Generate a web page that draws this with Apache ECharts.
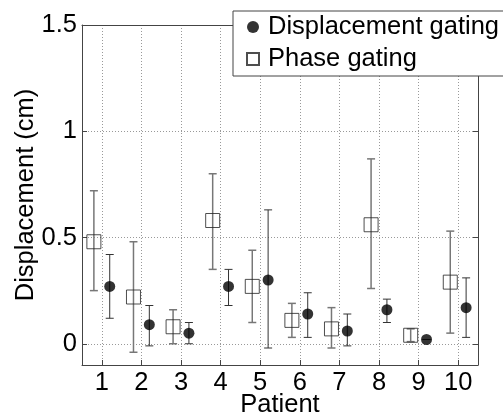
<!DOCTYPE html>
<html>
<head>
<meta charset="utf-8">
<script src="https://cdn.jsdelivr.net/npm/echarts@6/dist/echarts.min.js"></script>
<style>
  html, body { margin: 0; padding: 0; background: #fff; }
  #chart { width: 503px; height: 417px; }
</style>
</head>
<body>
<div id="chart"></div>
<script>
// data
const patients = [1, 2, 3, 4, 5, 6, 7, 8, 9, 10];
const phaseMean = [0.48, 0.22, 0.08, 0.58, 0.27, 0.11, 0.07, 0.56, 0.04, 0.29];
const phaseLow = [0.25, -0.04, 0.00, 0.35, 0.10, 0.03, -0.02, 0.26, 0.01, 0.05];
const phaseHigh = [0.72, 0.48, 0.16, 0.80, 0.44, 0.19, 0.17, 0.87, 0.07, 0.53];
const dispMean = [0.27, 0.09, 0.05, 0.27, 0.30, 0.14, 0.06, 0.16, 0.02, 0.17];
const dispLow = [0.12, -0.01, 0.00, 0.18, -0.02, 0.03, -0.01, 0.10, 0.02, 0.03];
const dispHigh = [0.42, 0.18, 0.10, 0.35, 0.63, 0.24, 0.14, 0.21, 0.02, 0.31];
const yTicks = [0, 0.5, 1, 1.5];

const FONT = 'Liberation Sans, Arial, sans-serif';
const FS = 25.5;
const shift = 0.2;

const chart = echarts.init(document.getElementById('chart'));

function errorBars(color, width) {
  return function (params, api) {
    const x = api.value(0);
    const top = api.coord([x, api.value(2)]);
    const bot = api.coord([x, api.value(1)]);
    const hw = 4;
    const style = {stroke: color, lineWidth: width};
    return {
      type: 'group',
      children: [
        {type: 'line', shape: {x1: top[0], y1: top[1], x2: bot[0], y2: bot[1]}, style: style},
        {type: 'line', shape: {x1: top[0] - hw, y1: top[1], x2: top[0] + hw, y2: top[1]}, style: style},
        {type: 'line', shape: {x1: bot[0] - hw, y1: bot[1], x2: bot[0] + hw, y2: bot[1]}, style: style}
      ]
    };
  };
}

const axisLine = {show: true, onZero: false, lineStyle: {color: '#444', width: 1}};
const dotted = {show: true, lineStyle: {color: '#999', width: 1, type: [1, 2]}};

const option = {
  animation: false,
  textStyle: {fontFamily: FONT},
  grid: {left: 82, top: 25, right: 25, bottom: 52, containLabel: false, outerBoundsMode: 'none'},
  legend: {
    orient: 'vertical',
    left: 233,
    top: 11,
    padding: [2, 40, 3, 13],
    itemGap: 4,
    itemWidth: 12,
    itemHeight: 12,
    backgroundColor: '#fff',
    borderColor: '#444',
    borderWidth: 1,
    borderRadius: 0,
    textStyle: {fontSize: FS, color: '#000', fontFamily: FONT, lineHeight: 28, padding: [0, 0, 0, 4]},
    data: [
      {name: 'Displacement gating', icon: 'circle'},
      {name: 'Phase gating', icon: 'rect'}
    ]
  },
  xAxis: [
    {
      type: 'value',
      min: 0.5,
      max: 10.5,
      name: 'Patient',
      nameLocation: 'middle',
      nameGap: 27,
      nameMoveOverlap: false,
      nameTextStyle: {fontSize: FS, color: '#000', fontFamily: FONT},
      axisLine: axisLine,
      axisTick: {show: true, inside: true, length: 5, customValues: patients, lineStyle: {color: '#444'}},
      axisLabel: {fontSize: FS, color: '#000', margin: 5, customValues: patients, fontFamily: FONT},
      splitLine: dotted
    },
    {
      type: 'value',
      position: 'top',
      min: 0.5,
      max: 10.5,
      axisLine: axisLine,
      axisTick: {show: false},
      axisLabel: {show: false},
      splitLine: {show: false}
    }
  ],
  yAxis: [
    {
      type: 'value',
      min: -0.1,
      max: 1.5,
      name: 'Displacement (cm)',
      nameLocation: 'middle',
      nameGap: 43,
      nameMoveOverlap: false,
      nameTextStyle: {fontSize: FS, color: '#000', fontFamily: FONT},
      axisLine: axisLine,
      axisTick: {show: true, inside: true, length: 5, customValues: yTicks, lineStyle: {color: '#444'}},
      axisLabel: {fontSize: FS, color: '#000', margin: 5, customValues: yTicks, fontFamily: FONT},
      splitLine: dotted
    },
    {
      type: 'value',
      position: 'right',
      min: -0.1,
      max: 1.5,
      axisLine: axisLine,
      axisTick: {show: true, inside: true, length: 5, customValues: yTicks, lineStyle: {color: '#444'}},
      axisLabel: {show: false, customValues: yTicks},
      splitLine: {show: false}
    }
  ],
  series: [
    {
      type: 'custom',
      name: 'phaseErr',
      renderItem: errorBars('#777', 1.5),
      data: patients.map((p, i) => [p - shift, phaseLow[i], phaseHigh[i]]),
      z: 2
    },
    {
      type: 'custom',
      name: 'dispErr',
      renderItem: errorBars('#333', 1),
      data: patients.map((p, i) => [p + shift, dispLow[i], dispHigh[i]]),
      z: 2
    },
    {
      type: 'scatter',
      name: 'Displacement gating',
      symbol: 'circle',
      symbolSize: 11,
      itemStyle: {color: '#000'},
      data: patients.map((p, i) => [p + shift, dispMean[i]]),
      z: 3
    },
    {
      type: 'scatter',
      name: 'Phase gating',
      symbol: 'rect',
      symbolSize: 14,
      itemStyle: {color: 'rgba(0,0,0,0)', borderColor: '#222', borderWidth: 1},
      data: patients.map((p, i) => [p - shift, phaseMean[i]]),
      z: 3
    }
  ]
};

chart.setOption(option);
</script>
</body>
</html>
